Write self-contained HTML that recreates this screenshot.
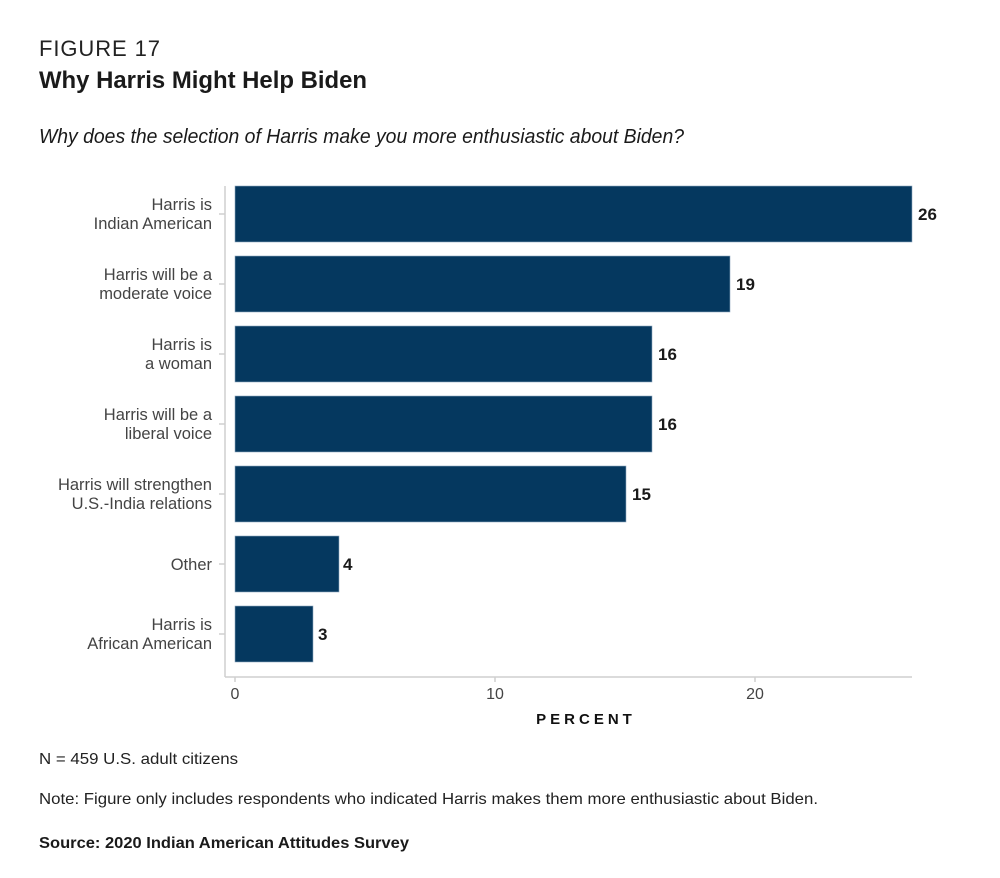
<!DOCTYPE html>
<html><head><meta charset="utf-8"><style>
html,body{margin:0;padding:0;background:#fff;}
svg{display:block;font-family:"Liberation Sans",sans-serif;}
</style></head><body>
<svg width="1000" height="878" viewBox="0 0 1000 878" xmlns="http://www.w3.org/2000/svg">
<text x="39" y="56" font-size="22" fill="#222" textLength="121" lengthAdjust="spacing">FIGURE 17</text>
<text x="39" y="88" font-size="24" font-weight="bold" fill="#1a1a1a" textLength="328" lengthAdjust="spacingAndGlyphs">Why Harris Might Help Biden</text>
<text x="39" y="143" font-size="20" font-style="italic" fill="#1a1a1a" textLength="645" lengthAdjust="spacingAndGlyphs">Why does the selection of Harris make you more enthusiastic about Biden?</text>

<g stroke="#cfcfcf" stroke-width="1.5" fill="none">
<line x1="225" y1="186" x2="225" y2="677"/>
<line x1="225" y1="677" x2="912" y2="677"/>
<line x1="235" y1="677" x2="235" y2="682"/>
<line x1="495" y1="677" x2="495" y2="682"/>
<line x1="755" y1="677" x2="755" y2="682"/>
<line x1="219" y1="214" x2="225" y2="214"/>
<line x1="219" y1="284" x2="225" y2="284"/>
<line x1="219" y1="354" x2="225" y2="354"/>
<line x1="219" y1="424" x2="225" y2="424"/>
<line x1="219" y1="494" x2="225" y2="494"/>
<line x1="219" y1="564" x2="225" y2="564"/>
<line x1="219" y1="634" x2="225" y2="634"/>
</g>

<g fill="#05385f" stroke="#8fa9c0" stroke-width="0.6">
<rect x="235" y="186" width="677" height="56"/>
<rect x="235" y="256" width="495" height="56"/>
<rect x="235" y="326" width="417" height="56"/>
<rect x="235" y="396" width="417" height="56"/>
<rect x="235" y="466" width="391" height="56"/>
<rect x="235" y="536" width="104" height="56"/>
<rect x="235" y="606" width="78" height="56"/>
</g>

<g font-size="17" font-weight="bold" fill="#1a1a1a">
<text x="918" y="220">26</text>
<text x="736" y="290">19</text>
<text x="658" y="360">16</text>
<text x="658" y="430">16</text>
<text x="632" y="500">15</text>
<text x="343" y="570">4</text>
<text x="318" y="640">3</text>
</g>

<g font-size="16.5" fill="#444" text-anchor="end">
<text x="212" y="210">Harris is</text>
<text x="212" y="229">Indian American</text>
<text x="212" y="280">Harris will be a</text>
<text x="212" y="299">moderate voice</text>
<text x="212" y="350">Harris is</text>
<text x="212" y="369">a woman</text>
<text x="212" y="420">Harris will be a</text>
<text x="212" y="439">liberal voice</text>
<text x="212" y="490">Harris will strengthen</text>
<text x="212" y="509">U.S.-India relations</text>
<text x="212" y="570">Other</text>
<text x="212" y="630">Harris is</text>
<text x="212" y="649">African American</text>
</g>

<g font-size="16" fill="#444" text-anchor="middle">
<text x="235" y="699">0</text>
<text x="495" y="699">10</text>
<text x="755" y="699">20</text>
</g>
<text x="586" y="724" font-size="15" font-weight="bold" fill="#111" text-anchor="middle" letter-spacing="4">PERCENT</text>

<text x="39" y="764" font-size="16" fill="#222" textLength="199" lengthAdjust="spacingAndGlyphs">N = 459 U.S. adult citizens</text>
<text x="39" y="804" font-size="16" fill="#222" textLength="779" lengthAdjust="spacingAndGlyphs">Note: Figure only includes respondents who indicated Harris makes them more enthusiastic about Biden.</text>
<text x="39" y="848" font-size="16" font-weight="bold" fill="#1a1a1a" textLength="370" lengthAdjust="spacingAndGlyphs">Source: 2020 Indian American Attitudes Survey</text>
</svg>
</body></html>
